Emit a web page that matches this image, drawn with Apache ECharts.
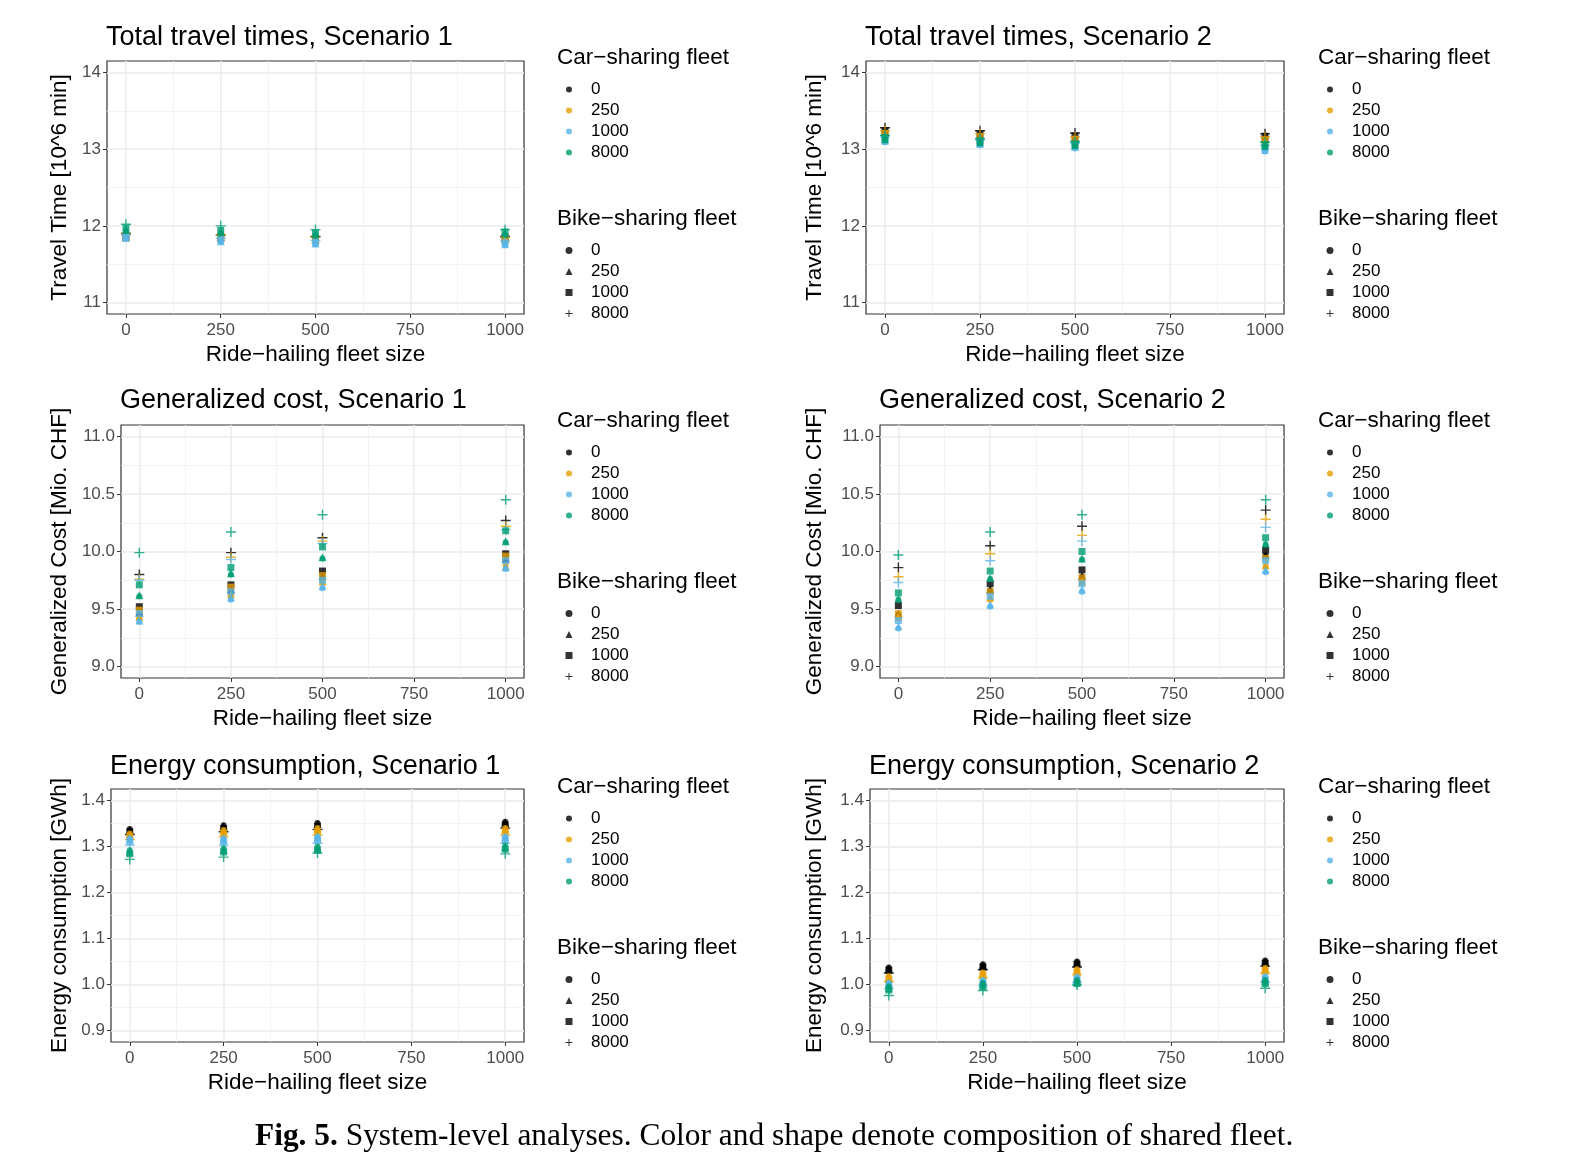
<!DOCTYPE html>
<html>
<head>
<meta charset="UTF-8">
<title>System-level analyses</title>
<style>
  html, body { margin: 0; padding: 0; background: #fff; }
  #chart { width: 1579px; height: 1161px; }
</style>
</head>
<body>
<div id="chart"></div>
<script src="https://cdn.jsdelivr.net/npm/echarts@6/dist/echarts.min.js"></script>
<script>
// x categories and fleet levels
var rideHailing = [0, 250, 500, 1000];
var carFleet = ['0', '250', '1000', '8000'];
var bikeFleet = ['0', '250', '1000', '8000'];

// tick labels
var rideTicks = [0, 250, 500, 750, 1000];
var rideMinor = [125, 375, 625, 875];
var travelTicks = [11, 12, 13, 14];
var travelMinor = [11.5, 12.5, 13.5];
var costTicks = [9.0, 9.5, 10.0, 10.5, 11.0];
var costMinor = [9.25, 9.75, 10.25, 10.75];
var energyTicks = [0.9, 1.0, 1.1, 1.2, 1.3, 1.4];
var energyMinor = [0.95, 1.05, 1.15, 1.25, 1.35];

// values[car][bike] = value at ride-hailing 0, 250, 500, 1000
var travelS1 = [
  [[11.85, 11.84, 11.82, 11.83], [11.86, 11.85, 11.83, 11.84], [11.87, 11.86, 11.84, 11.85], [11.90, 11.88, 11.86, 11.86]],
  [[11.84, 11.83, 11.81, 11.81], [11.85, 11.84, 11.82, 11.82], [11.87, 11.86, 11.83, 11.83], [11.89, 11.88, 11.85, 11.85]],
  [[11.83, 11.79, 11.76, 11.75], [11.84, 11.80, 11.77, 11.76], [11.86, 11.82, 11.79, 11.78], [11.88, 11.84, 11.81, 11.80]],
  [[11.93, 11.90, 11.87, 11.88], [11.95, 11.92, 11.89, 11.90], [11.97, 11.94, 11.91, 11.92], [12.02, 12.00, 11.95, 11.95]]
];
var travelS2 = [
  [[13.20, 13.16, 13.13, 13.13], [13.22, 13.18, 13.15, 13.15], [13.24, 13.20, 13.17, 13.17], [13.28, 13.24, 13.21, 13.20]],
  [[13.16, 13.12, 13.09, 13.08], [13.18, 13.14, 13.11, 13.10], [13.20, 13.16, 13.13, 13.12], [13.24, 13.20, 13.16, 13.16]],
  [[13.09, 13.05, 13.01, 12.97], [13.11, 13.07, 13.03, 12.99], [13.13, 13.09, 13.05, 13.01], [13.16, 13.12, 13.08, 13.05]],
  [[13.12, 13.08, 13.04, 13.03], [13.13, 13.09, 13.05, 13.04], [13.15, 13.11, 13.07, 13.06], [13.18, 13.14, 13.10, 13.09]]
];
var costS1 = [
  [[9.45, 9.66, 9.78, 9.93], [9.47, 9.67, 9.79, 9.94], [9.52, 9.71, 9.83, 9.98], [9.80, 9.99, 10.12, 10.27]],
  [[9.42, 9.62, 9.73, 9.88], [9.43, 9.63, 9.74, 9.87], [9.49, 9.69, 9.79, 9.96], [9.76, 9.95, 10.09, 10.22]],
  [[9.39, 9.58, 9.68, 9.85], [9.40, 9.60, 9.70, 9.86], [9.46, 9.65, 9.75, 9.92], [9.75, 9.93, 10.07, 10.19]],
  [[9.61, 9.80, 9.94, 10.08], [9.62, 9.81, 9.95, 10.09], [9.71, 9.86, 10.04, 10.18], [9.99, 10.17, 10.32, 10.45]]
];
var costS2 = [
  [[9.45, 9.66, 9.78, 9.96], [9.46, 9.67, 9.79, 9.97], [9.53, 9.72, 9.84, 10.01], [9.86, 10.05, 10.22, 10.36]],
  [[9.42, 9.58, 9.73, 9.87], [9.43, 9.60, 9.74, 9.88], [9.46, 9.65, 9.77, 9.94], [9.78, 9.98, 10.14, 10.28]],
  [[9.33, 9.52, 9.65, 9.82], [9.35, 9.54, 9.67, 9.84], [9.40, 9.61, 9.72, 9.92], [9.73, 9.92, 10.09, 10.21]],
  [[9.58, 9.76, 9.93, 10.06], [9.59, 9.77, 9.94, 10.07], [9.64, 9.83, 10.00, 10.12], [9.97, 10.17, 10.32, 10.45]]
];
var energyS1 = [
  [[1.338, 1.346, 1.351, 1.354], [1.336, 1.344, 1.349, 1.352], [1.332, 1.339, 1.344, 1.347], [1.326, 1.332, 1.337, 1.340]],
  [[1.328, 1.336, 1.340, 1.340], [1.326, 1.334, 1.338, 1.338], [1.322, 1.329, 1.333, 1.333], [1.315, 1.321, 1.325, 1.325]],
  [[1.318, 1.318, 1.322, 1.322], [1.316, 1.316, 1.320, 1.320], [1.311, 1.311, 1.315, 1.315], [1.303, 1.303, 1.307, 1.307]],
  [[1.292, 1.296, 1.300, 1.302], [1.289, 1.293, 1.297, 1.299], [1.284, 1.288, 1.292, 1.294], [1.272, 1.277, 1.286, 1.284]]
];
var energyS2 = [
  [[1.037, 1.044, 1.050, 1.052], [1.035, 1.042, 1.048, 1.050], [1.031, 1.038, 1.044, 1.046], [1.025, 1.032, 1.038, 1.040]],
  [[1.018, 1.026, 1.033, 1.036], [1.016, 1.024, 1.031, 1.034], [1.012, 1.020, 1.027, 1.030], [1.006, 1.014, 1.021, 1.024]],
  [[1.004, 1.010, 1.017, 1.018], [1.002, 1.008, 1.015, 1.016], [0.998, 1.004, 1.011, 1.012], [0.991, 0.997, 1.004, 1.005]],
  [[0.996, 1.003, 1.010, 1.010], [0.993, 1.000, 1.007, 1.007], [0.988, 0.995, 1.002, 1.002], [0.976, 0.987, 0.999, 0.992]]
];

// styles
var carColors = ['#000000', '#E69F00', '#56B4E9', '#009E73'];
var plusPath = 'path://M4.3,0H5.7V4.3H10V5.7H5.7V10H4.3V5.7H0V4.3H4.3Z';
var bikeSymbols = ['circle', 'triangle', 'rect', plusPath];
var bikeSizes = [6, 8, 7, 10];

var rowTop = [61, 425, 789];
var panels = [
  {title: 'Total travel times, Scenario 1', yName: 'Travel Time [10^6 min]', data: travelS1,
   yMin: 10.85, yMax: 14.15, ticks: travelTicks, minor: travelMinor, dec: 0, row: 0, left: 107, right: 524, legX: 557},
  {title: 'Total travel times, Scenario 2', yName: 'Travel Time [10^6 min]', data: travelS2,
   yMin: 10.85, yMax: 14.15, ticks: travelTicks, minor: travelMinor, dec: 0, row: 0, left: 866, right: 1284, legX: 1318},
  {title: 'Generalized cost, Scenario 1', yName: 'Generalized Cost [Mio. CHF]', data: costS1,
   yMin: 8.9, yMax: 11.1, ticks: costTicks, minor: costMinor, dec: 1, row: 1, left: 121, right: 524, legX: 557},
  {title: 'Generalized cost, Scenario 2', yName: 'Generalized Cost [Mio. CHF]', data: costS2,
   yMin: 8.9, yMax: 11.1, ticks: costTicks, minor: costMinor, dec: 1, row: 1, left: 880, right: 1284, legX: 1318},
  {title: 'Energy consumption, Scenario 1', yName: 'Energy consumption [GWh]', data: energyS1,
   yMin: 0.875, yMax: 1.425, ticks: energyTicks, minor: energyMinor, dec: 1, row: 2, left: 111, right: 524, legX: 557},
  {title: 'Energy consumption, Scenario 2', yName: 'Energy consumption [GWh]', data: energyS2,
   yMin: 0.875, yMax: 1.425, ticks: energyTicks, minor: energyMinor, dec: 1, row: 2, left: 870, right: 1284, legX: 1318}
];

var chart = echarts.init(document.getElementById('chart'));
var grids = [], xAxes = [], yAxes = [], series = [], legends = [], titles = [];

panels.forEach(function (p, i) {
  var top = rowTop[p.row];
  var yNameCenter = p.legX > 1000 ? 815 : 60;
  grids.push({
    left: p.left, top: top, width: p.right - p.left, height: 253,
    show: true, backgroundColor: '#fff', borderColor: '#333', borderWidth: 1.2
  });
  // main x axis
  xAxes.push({
    gridIndex: i, type: 'value', min: -50, max: 1050,
    name: 'Ride\u2212hailing fleet size', nameLocation: 'middle', nameGap: 29,
    nameTextStyle: {fontSize: 22.5, color: '#000'},
    axisLine: {show: false, onZero: false},
    axisTick: {show: true, length: 4, customValues: rideTicks, lineStyle: {color: '#333'}},
    axisLabel: {customValues: rideTicks, fontSize: 17, color: '#4D4D4D', margin: 8,
      formatter: function (v) { return String(v); }},
    splitLine: {show: true, lineStyle: {color: '#EBEBEB', width: 1.5}}
  });
  // minor x grid lines
  xAxes.push({
    gridIndex: i, type: 'value', min: -50, max: 1050,
    axisLine: {show: false, onZero: false},
    axisTick: {show: false, customValues: rideMinor},
    axisLabel: {show: false},
    splitLine: {show: true, lineStyle: {color: '#F0F0F0', width: 0.8}}
  });
  yAxes.push({
    gridIndex: i, type: 'value', min: p.yMin, max: p.yMax,
    name: p.yName, nameLocation: 'middle', nameGap: p.left - yNameCenter - 11,
    nameTextStyle: {fontSize: 22.5, color: '#000'},
    axisLine: {show: false, onZero: false},
    axisTick: {show: true, length: 4, customValues: p.ticks, lineStyle: {color: '#333'}},
    axisLabel: {
      customValues: p.ticks, fontSize: 17, color: '#4D4D4D', margin: 6,
      formatter: function (v) { return v.toFixed(p.dec); }
    },
    splitLine: {show: true, lineStyle: {color: '#EBEBEB', width: 1.5}}
  });
  yAxes.push({
    gridIndex: i, type: 'value', min: p.yMin, max: p.yMax,
    axisLine: {show: false, onZero: false},
    axisTick: {show: false, customValues: p.minor},
    axisLabel: {show: false},
    splitLine: {show: true, lineStyle: {color: '#F0F0F0', width: 0.8}}
  });

  // points: one series per car / bike combination
  carFleet.forEach(function (c, ci) {
    bikeFleet.forEach(function (b, bi) {
      series.push({
        type: 'scatter', name: p.title + ' ' + c + '/' + b,
        xAxisIndex: 2 * i, yAxisIndex: 2 * i,
        symbol: bikeSymbols[bi], symbolSize: bikeSizes[bi],
        itemStyle: {color: carColors[ci], opacity: 0.8},
        silent: true, animation: false,
        data: rideHailing.map(function (x, k) { return [x, p.data[ci][bi][k]]; })
      });
    });
  });

  var shift = [0, -1, 1][p.row];
  titles.push({
    text: p.title, left: p.left - 1, top: 24 + top - 61 + shift, padding: 0,
    textStyle: {fontSize: 27, fontWeight: 'normal', color: '#000', lineHeight: 27}
  });
  titles.push({
    text: 'Car\u2212sharing fleet', left: p.legX, top: 47 + top - 61 + shift, padding: 0,
    textStyle: {fontSize: 22.5, fontWeight: 'normal', color: '#000', lineHeight: 22}
  });
  titles.push({
    text: 'Bike\u2212sharing fleet', left: p.legX, top: 208 + top - 61 + shift, padding: 0,
    textStyle: {fontSize: 22.5, fontWeight: 'normal', color: '#000', lineHeight: 22}
  });

  legends.push({
    orient: 'vertical', left: p.legX + 9, top: 81 + top - 61 + shift, padding: 0,
    itemWidth: 6, itemHeight: 6, itemGap: 4, selectedMode: false,
    formatter: function (n) { return n.split(':')[1]; },
    textStyle: {fontSize: 17, lineHeight: 17, color: '#000', padding: [0, 0, 0, 14]},
    data: carFleet.map(function (c, k) {
      return {name: 'Car:' + c, icon: 'circle', itemStyle: {color: carColors[k]}};
    })
  });
  legends.push({
    orient: 'vertical', left: p.legX + 8.5, top: 242 + top - 61 + shift, padding: 0,
    itemWidth: 7, itemHeight: 7, itemGap: 4, selectedMode: false,
    formatter: function (n) { return n.split(':')[1]; },
    textStyle: {fontSize: 17, lineHeight: 17, color: '#000', padding: [0, 0, 0, 13.5]},
    data: bikeFleet.map(function (b, k) {
      return {name: 'Bike:' + b, icon: bikeSymbols[k], itemStyle: {color: '#000'}};
    })
  });
});

// empty series that only feed the legends
carFleet.forEach(function (c, k) {
  series.push({type: 'scatter', name: 'Car:' + c, xAxisIndex: 0, yAxisIndex: 0, data: [],
    symbol: 'circle', itemStyle: {color: carColors[k]}});
});
bikeFleet.forEach(function (b, k) {
  series.push({type: 'scatter', name: 'Bike:' + b, xAxisIndex: 0, yAxisIndex: 0, data: [],
    symbol: bikeSymbols[k], itemStyle: {color: '#000'}});
});

// caption
titles.push({
  text: '{b|Fig. 5.} System-level analyses. Color and shape denote composition of shared fleet.',
  left: 255, top: 1120, padding: 0,
  textStyle: {
    fontFamily: 'Liberation Serif', fontSize: 31.4, fontWeight: 'normal', color: '#000', lineHeight: 34,
    rich: {b: {fontFamily: 'Liberation Serif', fontSize: 31.4, fontWeight: 'bold', color: '#000', lineHeight: 34}}
  }
});

var option = {
  backgroundColor: '#fff',
  animation: false,
  textStyle: {fontFamily: 'Liberation Sans'},
  title: titles,
  legend: legends,
  grid: grids,
  xAxis: xAxes,
  yAxis: yAxes,
  series: series
};
chart.setOption(option);
</script>
</body>
</html>
